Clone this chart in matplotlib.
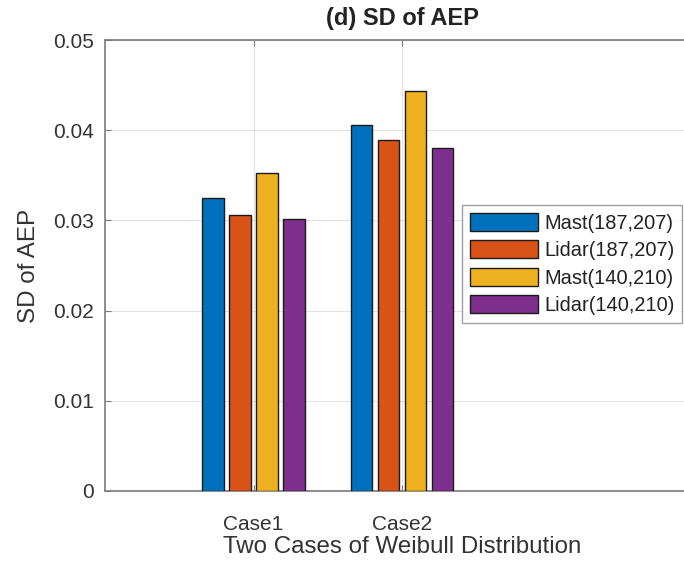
import matplotlib
matplotlib.use("Agg")
import matplotlib.pyplot as plt
import numpy as np

plt.rcParams['font.family'] = ['Liberation Sans', 'DejaVu Sans']

categories = ["Case1", "Case2"]
series_names = ["Mast(187,207)", "Lidar(187,207)", "Mast(140,210)", "Lidar(140,210)"]
mast_187_207 = [0.0325, 0.0406]
lidar_187_207 = [0.0306, 0.0389]
mast_140_210 = [0.0352, 0.0444]
lidar_140_210 = [0.0301, 0.0380]
series = [mast_187_207, lidar_187_207, mast_140_210, lidar_140_210]
colors = ["#0072BD", "#D95319", "#EDB120", "#7E2F8E"]
yticks = [0, 0.01, 0.02, 0.03, 0.04, 0.05]
ytick_labels = ["0", "0.01", "0.02", "0.03", "0.04", "0.05"]

fig = plt.figure(figsize=(6.84, 5.61), dpi=100)
ax = fig.add_axes([105/684, 1-491/561, 594/684, 451/561])

x = np.arange(1, len(categories) + 1)
n = len(series)
groupw = min(0.8, n / (n + 1.5))
step = groupw / n
barw = step * 0.8
for i, (vals, c, name) in enumerate(zip(series, colors, series_names)):
    off = (i - (n - 1) / 2) * step
    ax.bar(x + off, vals, width=barw, color=c, edgecolor="#1a1a1a",
           linewidth=1.0, label=name, zorder=3)

ax.set_xlim(0, 4)
ax.set_ylim(0, 0.05)
ax.set_xticks(x)
ax.set_xticklabels(categories)
ax.set_yticks(yticks)
ax.set_yticklabels(ytick_labels)
ax.grid(True, color="#e3e3e3", linewidth=0.8, zorder=0)
ax.set_axisbelow(True)
for s in ax.spines.values():
    s.set_color("#7a7a7a")
    s.set_linewidth(1.2)
ax.tick_params(direction="in", length=4, color="#7a7a7a", labelsize=15,
               labelcolor="#333333", top=True, right=True)
ax.tick_params(axis="y", pad=8)
ax.tick_params(axis="x", pad=17)

ax.set_title("(d) SD of AEP", fontsize=17, fontweight="bold", color="#222222", pad=11)
ax.set_xlabel("Two Cases of Weibull Distribution", fontsize=17.4, color="#333333", labelpad=2)
ax.set_ylabel("SD of AEP", fontsize=17.4, color="#333333", labelpad=9.5)

leg = fig.legend(loc="upper left", bbox_to_anchor=(462/684, 1-205/561),
                 fontsize=14.4, frameon=True, fancybox=False, edgecolor="#888888",
                 handlelength=3.4, handleheight=1.0, handletextpad=0.3,
                 labelspacing=0.38, borderpad=0.4, borderaxespad=0)
leg.get_frame().set_linewidth(1.0)
for t in leg.get_texts():
    t.set_color("#222222")

fig.savefig("out.png", dpi=100)
